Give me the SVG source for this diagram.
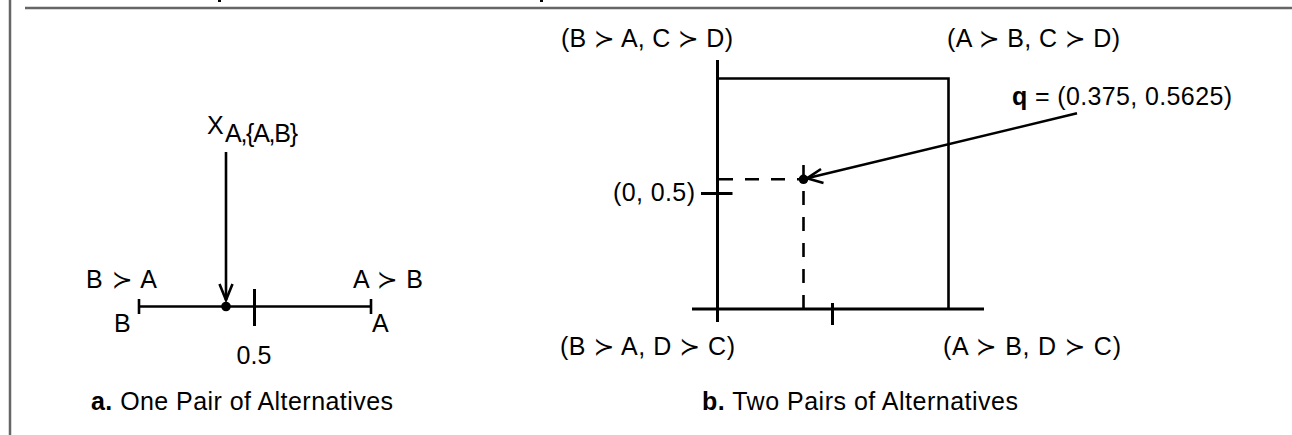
<svg xmlns="http://www.w3.org/2000/svg" width="1292" height="435" viewBox="0 0 1292 435">
<defs>
<style>
text{font-family:"Liberation Sans","DejaVu Sans",sans-serif;fill:#000;font-size:25px}
.b{font-weight:bold}
.ln{stroke:#000;stroke-width:2.6;fill:none}
.th{stroke:#000;stroke-width:3;fill:none}
.ds{stroke:#000;stroke-width:2.6;fill:none;stroke-dasharray:14 12}
.frame{stroke:#666;stroke-width:2.5;fill:none}
</style>
</defs>
<rect width="1292" height="435" fill="#fff"/>
<g id="frame">
<line class="frame" x1="10" y1="0" x2="10" y2="435"/>
<line class="frame" x1="25" y1="8" x2="1292" y2="8"/>
<rect x="218" y="0" width="3" height="2" fill="#000"/>
<rect x="540" y="0" width="3" height="2" fill="#000"/>
</g>
<g id="panel-a">
<g id="numberline">
<line class="ln" x1="139" y1="306.5" x2="371" y2="306.5"/>
<line class="ln" x1="139" y1="299" x2="139" y2="314"/>
<line class="ln" x1="371" y1="299" x2="371" y2="314"/>
<line class="th" x1="254.5" y1="289" x2="254.5" y2="326"/>
<circle cx="226" cy="306.5" r="4.8" fill="#000"/>
</g>
<g id="label-x">
<text x="207" y="134" font-size="26">X</text>
<text x="225" y="142" font-size="18" textLength="73" lengthAdjust="spacing">A,{A,B}</text>
</g>
<text x="86" y="288" textLength="71" lengthAdjust="spacing">B ≻ A</text>
<text x="353" y="288" textLength="70" lengthAdjust="spacing">A ≻ B</text>
<text x="114" y="332">B</text>
<text x="372" y="332">A</text>
<text x="254" y="364" text-anchor="middle">0.5</text>
<text x="91" y="410" textLength="302" lengthAdjust="spacing"><tspan class="b">a.</tspan> One Pair of Alternatives</text>
</g>
<g id="panel-b">
<g id="axes">
<line class="th" x1="717.5" y1="60" x2="717.5" y2="322"/>
<line class="th" x1="692" y1="309" x2="984" y2="309"/>
<polyline class="ln" points="717.5,78.5 948.5,78.5 948.5,309"/>
<line class="th" x1="832.5" y1="303" x2="832.5" y2="325"/>
<line class="th" x1="701" y1="193.5" x2="732.5" y2="193.5"/>
</g>
<g id="point-q">
<line class="ds" x1="719" y1="179.3" x2="803.5" y2="179.3" stroke-dasharray="12 9"/>
<line class="ds" x1="803.5" y1="165" x2="803.5" y2="309" stroke-dasharray="14 12"/>
<circle cx="803.5" cy="179.3" r="4.8" fill="#000"/>
</g>
<text x="561" y="47" textLength="172" lengthAdjust="spacing">(B ≻ A, C ≻ D)</text>
<text x="947" y="47" textLength="173" lengthAdjust="spacing">(A ≻ B, C ≻ D)</text>
<text x="1012" y="105" textLength="220" lengthAdjust="spacing"><tspan class="b">q</tspan> = (0.375, 0.5625)</text>
<text x="613" y="201" textLength="82" lengthAdjust="spacing">(0, 0.5)</text>
<text x="560" y="355" textLength="175" lengthAdjust="spacing">(B ≻ A, D ≻ C)</text>
<text x="943" y="355" textLength="178" lengthAdjust="spacing">(A ≻ B, D ≻ C)</text>
<text x="702" y="410" textLength="316" lengthAdjust="spacing"><tspan class="b">b.</tspan> Two Pairs of Alternatives</text>
</g>
<g id="connectors">
<line class="ln" x1="226" y1="152" x2="226" y2="300"/>
<polyline class="ln" points="219.5,284 226,300 232.5,284"/>
<line class="ln" x1="1077" y1="113.3" x2="807" y2="178.3"/>
<polyline class="ln" points="821,169 807,178.3 823.5,183"/>
</g>
</svg>
